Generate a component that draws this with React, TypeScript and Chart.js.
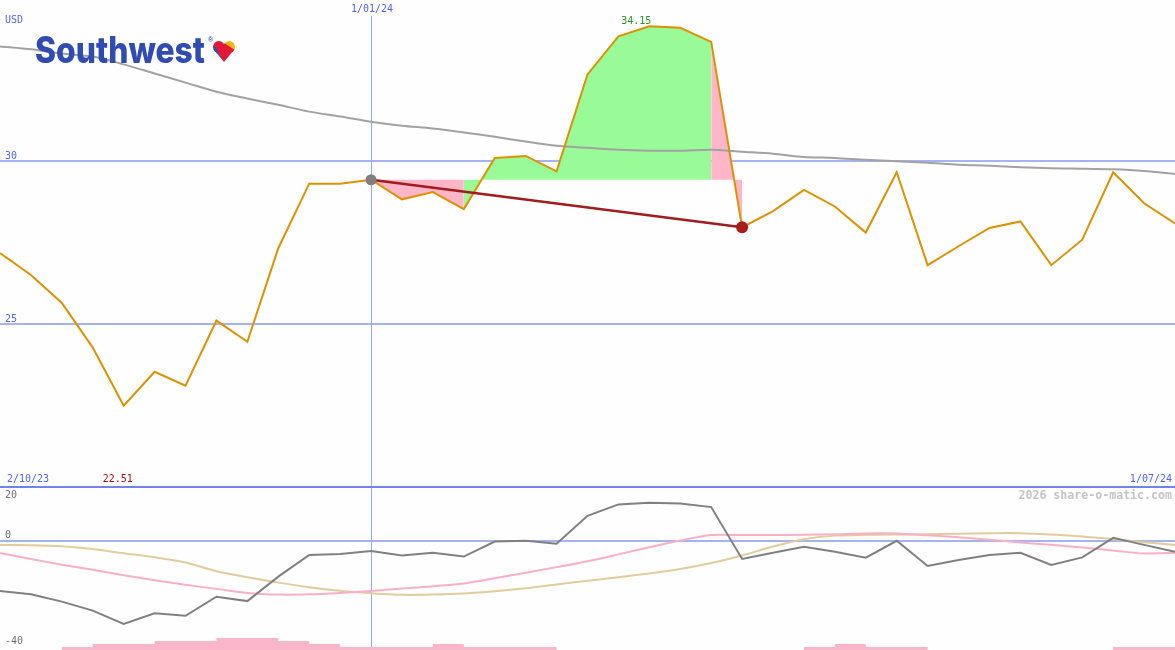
import React, { useEffect, useRef } from "react";
import { Chart, registerables } from "chart.js";

Chart.register(...registerables);

// Weekly dates (d/mm/yy)
const dates = [
  "9/10/23", "16/10/23", "23/10/23", "30/10/23", "6/11/23", "13/11/23", "20/11/23", "27/11/23",
  "4/12/23", "11/12/23", "18/12/23", "25/12/23", "1/01/24", "8/01/24", "15/01/24", "22/01/24",
  "29/01/24", "5/02/24", "12/02/24", "19/02/24", "26/02/24", "4/03/24", "11/03/24", "18/03/24",
  "25/03/24", "1/04/24", "8/04/24", "15/04/24", "22/04/24", "29/04/24", "6/05/24", "13/05/24",
  "20/05/24", "27/05/24", "3/06/24", "10/06/24", "17/06/24", "24/06/24", "1/07/24",
];

const price = [
  27.19, 26.52, 25.66, 24.29, 22.51, 23.55, 23.12, 25.12, 24.47, 27.34,
  29.32, 29.32, 29.44, 28.84, 29.06, 28.54, 30.11, 30.17, 29.7, 32.67,
  33.84, 34.15, 34.1, 33.67, 27.98, 28.48, 29.13, 28.62, 27.82, 29.67,
  26.82, 27.4, 27.96, 28.16, 26.82, 27.6, 29.67, 28.72, 28.1,
];

const priceAverage = [
  33.53, 33.44, 33.31, 33.22, 32.98, 32.7, 32.42, 32.14, 31.93, 31.74,
  31.53, 31.38, 31.22, 31.1, 31.01, 30.89, 30.76, 30.61, 30.48, 30.42,
  30.36, 30.33, 30.33, 30.36, 30.3, 30.24, 30.14, 30.11, 30.05, 30.01,
  29.96, 29.9, 29.87, 29.82, 29.79, 29.78, 29.76, 29.71, 29.62,
];

const oscFast = [
  -18.3, -19.5, -22.2, -25.5, -30.4, -26.5, -27.4, -20.4, -22.0, -13.0,
  -5.0, -4.7, -3.6, -5.2, -4.2, -5.6, -0.1, 0.2, -0.9, 9.4,
  13.6, 14.2, 13.9, 12.6, -6.5, -4.2, -2.0, -3.8, -6.0, 0.2,
  -9.1, -6.9, -5.0, -4.2, -8.7, -5.9, 1.3, -1.3, -3.8,
];

const oscMid = [
  -4.3, -6.5, -8.6, -10.5, -12.5, -14.3, -16.0, -17.5, -19.0, -19.6,
  -19.5, -19.0, -18.3, -17.4, -16.5, -15.5, -13.6, -11.6, -9.5, -7.3,
  -4.8, -2.2, 0.3, 2.3, 2.3, 2.3, 2.4, 2.6, 2.9, 2.9,
  2.2, 1.5, 0.6, -0.4, -1.3, -2.3, -3.4, -4.5, -4.2,
];

const oscSlow = [
  -1.35, -1.4, -1.8, -2.8, -4.4, -5.9, -7.8, -11.0, -13.2, -15.2,
  -16.9, -18.2, -19.1, -19.7, -19.6, -19.2, -18.4, -17.3, -15.9, -14.5,
  -13.2, -11.8, -10.2, -8.0, -5.2, -1.9, 0.8, 2.1, 2.4, 2.5,
  2.6, 2.8, 3.0, 3.0, 2.5, 1.8, 0.8, -0.3, -1.35,
];

// relative weekly volume level (applies to the week that starts at each date)
const volumeLevels = [
  0, 0, 1, 2, 2, 3, 3, 4, 4, 3,
  2, 1, 1, 1, 2, 1, 1, 1, 0, 0,
  0, 0, 0, 0, 0, 0, 1, 2, 1, 1,
  0, 0, 0, 0, 0, 0, 1, 1, 0,
];

const priceGrid = [30, 25];
const oscGrid = [0];
const oscTickLabels = ["20", "0", "-40"];
const periodStart = "2/10/23";
const refIndex = 12;
const endIndex = 24;
const currency = "USD";
const credit = "2026 share-o-matic.com";

const MONO = '"DejaVu Sans Mono", monospace';

function rangeOf(arr: number[], from: number, to: number) {
  return arr.map((v, i) => (i >= from && i <= to ? v : null));
}

function drawHeart(ctx: CanvasRenderingContext2D, x0: number, y0: number) {
  const off = document.createElement("canvas");
  off.width = 26;
  off.height = 25;
  const c = off.getContext("2d") as CanvasRenderingContext2D;
  c.translate(1, 1);
  c.fillStyle = "#e31837";
  const r = 5.9;
  c.beginPath();
  c.arc(5.9, 6.0, r, 0, Math.PI * 2);
  c.fill();
  c.beginPath();
  c.arc(16.1, 6.0, r, 0, Math.PI * 2);
  c.fill();
  c.beginPath();
  c.moveTo(0.3, 8.0);
  c.lineTo(21.7, 8.0);
  c.lineTo(11, 21);
  c.closePath();
  c.fill();
  c.globalCompositeOperation = "source-atop";
  c.fillStyle = "#304cb2";
  c.beginPath();
  c.moveTo(-2, 2);
  c.lineTo(2.2, 5.5);
  c.lineTo(11.6, 23);
  c.lineTo(-2, 23);
  c.closePath();
  c.fill();
  c.fillStyle = "#f9b612";
  c.beginPath();
  c.moveTo(11, -2);
  c.lineTo(11.2, 2.0);
  c.lineTo(24, 10.5);
  c.lineTo(24, -2);
  c.closePath();
  c.fill();
  ctx.drawImage(off, x0 - 1, y0 - 1);
}

const overlayPlugin = {
  id: "overlay",
  beforeDraw(chart: any) {
    const { ctx, width, height } = chart;
    ctx.save();
    ctx.fillStyle = "#fdfefd";
    ctx.fillRect(0, 0, width, height);
    ctx.restore();
  },
  beforeDatasetsDraw(chart: any) {
    const { ctx, width, height, scales } = chart;
    ctx.save();
    ctx.strokeStyle = "#a4b3f2";
    ctx.lineWidth = 2;
    for (const p of priceGrid) {
      const y = Math.round(scales.y.getPixelForValue(p));
      ctx.beginPath();
      ctx.moveTo(0, y);
      ctx.lineTo(width, y);
      ctx.stroke();
    }
    for (const p of oscGrid) {
      const y = Math.round(scales.y2.getPixelForValue(p));
      ctx.beginPath();
      ctx.moveTo(0, y);
      ctx.lineTo(width, y);
      ctx.stroke();
    }
    // vertical reference line
    const xr = Math.round(scales.x.getPixelForValue(refIndex)) + 0.5;
    ctx.strokeStyle = "#96a8fa";
    ctx.lineWidth = 1;
    ctx.beginPath();
    ctx.moveTo(xr, 16);
    ctx.lineTo(xr, height);
    ctx.stroke();
    // panel separator
    const ys = Math.round(scales.y2.getPixelForValue(20));
    ctx.strokeStyle = "#7383ee";
    ctx.lineWidth = 2;
    ctx.beginPath();
    ctx.moveTo(0, ys);
    ctx.lineTo(width, ys);
    ctx.stroke();
    ctx.restore();
  },
  afterDatasetsDraw(chart: any) {
    const { ctx, scales } = chart;
    ctx.save();
    // Logo
    ctx.font = '800 37px Inter, "Open Sans", sans-serif';
    ctx.fillStyle = "#304cb2";
    ctx.textBaseline = "alphabetic";
    ctx.textAlign = "left";
    const word = "Southwest";
    const w = ctx.measureText(word).width;
    ctx.save();
    ctx.translate(35, 63);
    ctx.scale(170 / w, 1);
    ctx.fillText(word, 0, 0);
    ctx.restore();
    ctx.font = "7px sans-serif";
    ctx.fillText("®", 208, 42);
    drawHeart(ctx, 213, 41);

    // Text labels
    ctx.textBaseline = "middle";
    ctx.font = `10px ${MONO}`;
    ctx.fillStyle = "#5265f0";
    ctx.textAlign = "left";
    ctx.fillText(currency, 5, 20);
    for (const p of priceGrid) {
      ctx.fillText(String(p), 5, scales.y.getPixelForValue(p) - 5);
    }
    const xr = scales.x.getPixelForValue(refIndex);
    ctx.textAlign = "center";
    ctx.fillText(dates[refIndex], xr + 1, 9);
    ctx.textAlign = "left";
    ctx.fillText(periodStart, 7, 479);
    ctx.textAlign = "right";
    ctx.fillText(dates[dates.length - 1], 1172, 479);

    const maxVal = Math.max(...price);
    const minVal = Math.min(...price);
    const maxIdx = price.indexOf(maxVal);
    const minIdx = price.indexOf(minVal);
    ctx.textAlign = "center";
    ctx.fillStyle = "#2a962a";
    ctx.fillText(maxVal.toFixed(2), scales.x.getPixelForValue(maxIdx) - 13, 21);
    ctx.fillStyle = "#a01414";
    ctx.fillText(minVal.toFixed(2), scales.x.getPixelForValue(minIdx) - 6, 479);

    ctx.textAlign = "left";
    ctx.fillStyle = "#707070";
    const oscLabelY = [495, 535, 641];
    oscTickLabels.forEach((t, i) => {
      ctx.fillText(t, 5, oscLabelY[i]);
    });

    ctx.font = `bold 11.6px ${MONO}`;
    ctx.fillStyle = "#c4c4c4";
    ctx.textAlign = "right";
    ctx.fillText(credit, 1172, 496);
    ctx.restore();
  },
};

export default function App() {
  const ref = useRef<HTMLCanvasElement | null>(null);

  useEffect(() => {
    if (!ref.current) return;
    const base = price[refIndex];
    const fillCommon = {
      borderWidth: 0,
      pointRadius: 0,
      spanGaps: false,
      tension: 0,
      yAxisID: "y",
      order: 9,
    };
    const marks = price.map((v, i) => (i === refIndex || i === endIndex ? v : null));
    const chart = new Chart(ref.current, {
      type: "line",
      data: {
        labels: dates,
        datasets: [
          {
            label: "volume",
            data: volumeLevels,
            yAxisID: "yv",
            stepped: true,
            borderWidth: 0,
            pointRadius: 0,
            backgroundColor: "#f9b5c9",
            fill: "origin",
            order: 12,
          },
          {
            ...fillCommon,
            label: "fallA",
            data: rangeOf(price, refIndex, 15),
            backgroundColor: "#ffb6c8",
            fill: { value: base },
          },
          {
            ...fillCommon,
            label: "rise",
            data: rangeOf(price, 15, 23),
            backgroundColor: "#98fb98",
            fill: { value: base },
          },
          {
            ...fillCommon,
            label: "fallB",
            data: rangeOf(price, 23, endIndex),
            backgroundColor: "#ffb6c8",
            fill: { value: base },
          },
          {
            label: "oscSlow",
            data: oscSlow,
            yAxisID: "y2",
            borderColor: "#e2cc9c",
            borderWidth: 2,
            pointRadius: 0,
            tension: 0.3,
            fill: false,
            order: 8,
          },
          {
            label: "oscMid",
            data: oscMid,
            yAxisID: "y2",
            borderColor: "#f8b0c8",
            borderWidth: 2,
            pointRadius: 0,
            tension: 0.3,
            fill: false,
            order: 7,
          },
          {
            label: "oscFast",
            data: oscFast,
            yAxisID: "y2",
            borderColor: "#808080",
            borderWidth: 2,
            pointRadius: 0,
            tension: 0,
            fill: false,
            order: 6,
          },
          {
            label: "average",
            data: priceAverage,
            yAxisID: "y",
            borderColor: "#a2a2a2",
            borderWidth: 2,
            pointRadius: 0,
            tension: 0.3,
            fill: false,
            order: 5,
          },
          {
            label: "price",
            data: price,
            yAxisID: "y",
            borderColor: "#dc9200",
            borderWidth: 2,
            pointRadius: 0,
            tension: 0,
            fill: false,
            order: 4,
          },
          {
            label: "trend",
            data: marks,
            yAxisID: "y",
            borderColor: "#a11c1c",
            borderWidth: 2.5,
            pointRadius: 0,
            spanGaps: true,
            tension: 0,
            fill: false,
            order: 3,
          },
          {
            label: "marks",
            data: marks,
            yAxisID: "y",
            showLine: false,
            pointRadius: price.map((_, i) => (i === refIndex ? 5.5 : i === endIndex ? 6 : 0)),
            pointBackgroundColor: price.map((_, i) => (i === refIndex ? "#7f7f7f" : "#a81c1c")),
            pointBorderWidth: 0,
            fill: false,
            order: 2,
          },
        ],
      },
      options: {
        responsive: false,
        animation: false,
        events: [],
        layout: { padding: 0 },
        plugins: {
          legend: { display: false },
          tooltip: { enabled: false },
          title: { display: false },
        },
        scales: {
          x: { type: "category", display: false, offset: false },
          y: { type: "linear", display: false, min: 15.015, max: 34.954 },
          y2: { type: "linear", display: false, min: -40, max: 199.26 },
          yv: { type: "linear", display: false, min: 0, max: 216.7 },
        },
      },
      plugins: [overlayPlugin],
    } as any);
    return () => chart.destroy();
  }, []);

  return (
    <div style={{ position: "fixed", left: 0, top: 0, width: 1175, height: 650, overflow: "hidden" }}>
      <canvas ref={ref} width={1175} height={650} style={{ display: "block", width: 1175, height: 650 }} />
    </div>
  );
}
